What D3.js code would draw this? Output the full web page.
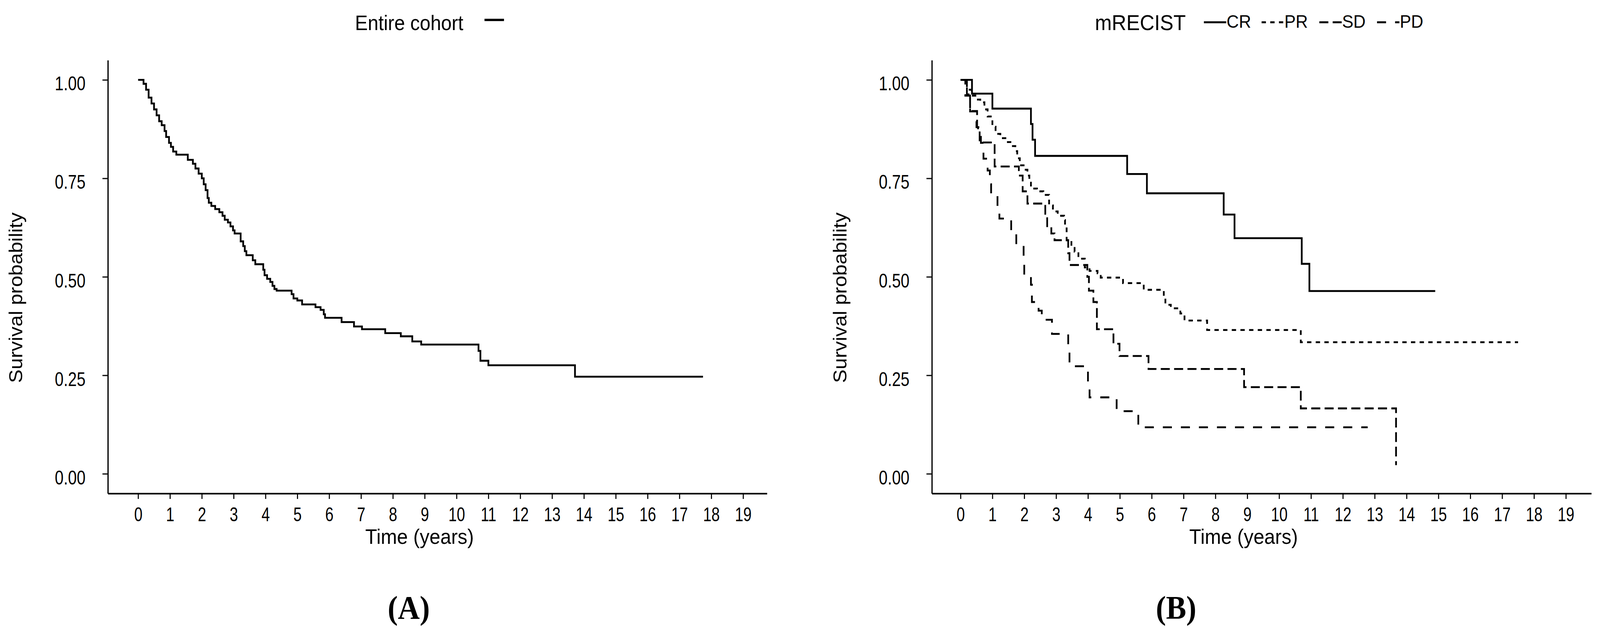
<!DOCTYPE html>
<html>
<head>
<meta charset="utf-8">
<script src="https://cdn.jsdelivr.net/npm/d3@7"></script>
<style>
  html, body { margin: 0; padding: 0; background: #fff; overflow: hidden; }
  #chart { display: block; width: 100vw; height: 100vh; }
  text { font-family: "Liberation Sans", Arial, sans-serif; fill: #000; }
  .tick text { font-family: "Liberation Sans", Arial, sans-serif; font-size: 50px; }
</style>
</head>
<body>
<svg id="chart" viewBox="0 0 4435 1615" preserveAspectRatio="none"></svg>
<script>
'use strict';

// Data Inputs: [time in years, survival after the step]
const xTicks = [0, 1, 2, 3, 4, 5, 6, 7, 8, 9, 10, 11, 12, 13, 14, 15, 16, 17, 18, 19];
const yTicks = [0, 0.25, 0.5, 0.75, 1];

const cohort = [
    [0, 1], [0.17, 0.99], [0.25, 0.975], [0.33, 0.955], [0.42, 0.94], [0.5, 0.925],
    [0.58, 0.91], [0.66, 0.895], [0.74, 0.885], [0.83, 0.87], [0.88, 0.855], [0.97, 0.84],
    [1.03, 0.83], [1.1, 0.818], [1.2, 0.81], [1.56, 0.797], [1.72, 0.787], [1.8, 0.775],
    [1.9, 0.762], [2.0, 0.75], [2.06, 0.735], [2.12, 0.72], [2.18, 0.70], [2.22, 0.688],
    [2.3, 0.68], [2.42, 0.672], [2.55, 0.664], [2.65, 0.655], [2.72, 0.645], [2.82, 0.638],
    [2.9, 0.628], [2.98, 0.618], [3.03, 0.61], [3.22, 0.59], [3.3, 0.578], [3.35, 0.565],
    [3.4, 0.555], [3.6, 0.542], [3.68, 0.532], [3.93, 0.518], [3.97, 0.504], [4.05, 0.495],
    [4.15, 0.487], [4.22, 0.477], [4.28, 0.469], [4.35, 0.465], [4.82, 0.456], [4.88, 0.445],
    [5.0, 0.44], [5.15, 0.43], [5.57, 0.423], [5.73, 0.416], [5.83, 0.405], [5.87, 0.396],
    [6.39, 0.385], [6.78, 0.374], [7.03, 0.367], [7.76, 0.357], [8.25, 0.349], [8.61, 0.336],
    [8.89, 0.328], [10.69, 0.312], [10.75, 0.287], [11.0, 0.2755], [13.72, 0.2465], [17.74, 0.2465]
];

const cr = [
    [0, 1], [0.36, 0.965], [1.0, 0.927], [2.21, 0.888], [2.26, 0.848], [2.34, 0.807],
    [5.23, 0.761], [5.85, 0.712], [8.26, 0.658], [8.6, 0.598], [10.71, 0.533], [10.95, 0.464],
    [14.9, 0.464]
];

const pr = [
    [0, 1], [0.2, 0.975], [0.35, 0.96], [0.5, 0.95], [0.62, 0.943], [0.75, 0.925],
    [0.85, 0.907], [1.0, 0.881], [1.1, 0.863], [1.25, 0.852], [1.45, 0.842], [1.6, 0.832],
    [1.72, 0.819], [1.78, 0.801], [1.86, 0.783], [1.98, 0.772], [2.1, 0.757], [2.16, 0.739],
    [2.21, 0.724], [2.4, 0.717], [2.6, 0.708], [2.78, 0.681], [2.9, 0.666], [3.05, 0.655],
    [3.25, 0.644], [3.28, 0.626], [3.33, 0.593], [3.48, 0.578], [3.58, 0.564], [3.7, 0.546],
    [3.9, 0.524], [4.05, 0.515], [4.3, 0.509], [4.4, 0.498], [5.1, 0.484], [5.75, 0.467],
    [6.38, 0.45], [6.43, 0.429], [6.6, 0.42], [6.9, 0.407], [7.03, 0.389], [7.74, 0.365],
    [10.68, 0.334], [17.5, 0.334]
];

const sd = [
    [0, 1], [0.2, 0.963], [0.3, 0.921], [0.52, 0.88], [0.6, 0.841], [1.07, 0.78],
    [1.83, 0.757], [1.95, 0.717], [2.1, 0.686], [2.66, 0.66], [2.72, 0.626], [2.85, 0.61],
    [2.95, 0.593], [3.38, 0.56], [3.42, 0.53], [3.98, 0.5], [4.03, 0.465], [4.17, 0.436],
    [4.28, 0.367], [4.8, 0.33], [4.99, 0.299], [5.9, 0.266], [8.9, 0.22], [10.68, 0.166],
    [13.67, 0.022]
];

const pd = [
    [0, 1], [0.15, 0.96], [0.3, 0.92], [0.5, 0.88], [0.55, 0.86], [0.64, 0.84],
    [0.72, 0.80], [0.85, 0.77], [0.92, 0.735], [0.96, 0.712], [1.16, 0.67], [1.22, 0.648],
    [1.59, 0.611], [1.75, 0.58], [1.98, 0.54], [2.0, 0.505], [2.21, 0.48], [2.24, 0.436],
    [2.45, 0.414], [2.55, 0.391], [2.87, 0.355], [3.38, 0.31], [3.42, 0.273], [4.0, 0.232],
    [4.05, 0.194], [4.9, 0.159], [5.58, 0.118], [12.78, 0.118]
];

const groupNames = ['CR', 'PR', 'SD', 'PD'];
const groupDash  = ['none', '12,12', '25,12', '25,25'];


const svg = d3.select('#chart');
const lineW = 4.8;
const yLabScale = 0.875,
      xLabScale = 0.83;

const y = d3.scaleLinear().domain([-0.05, 1.05]).range([1263, 154]);

function drawPanel(p) {
    const x = d3.scaleLinear().domain(p.xDomain).range(p.xRange);
    const g = svg.append('g');

    // axes
    const gy = g.append('g')
        .attr('transform', `translate(${p.xRange[0]},0)`)
        .call(d3.axisLeft(y).tickValues(yTicks).tickFormat(d3.format('.2f'))
              .tickSize(15).tickSizeOuter(0).tickPadding(47));
    gy.selectAll('text')
        .attr('x', -62 / yLabScale)
        .attr('dy', '0.53em')
        .attr('transform', `scale(${yLabScale},1)`);
    gy.select('.domain').attr('stroke-width', 3.5);
    gy.selectAll('.tick line').attr('stroke-width', 3);

    const gx = g.append('g')
        .attr('transform', 'translate(0,1263)')
        .call(d3.axisBottom(x).tickValues(xTicks).tickFormat(d3.format('d'))
              .tickSize(14).tickSizeOuter(0).tickPadding(22));
    gx.selectAll('text').attr('transform', `scale(${xLabScale},1)`);
    gx.select('.domain').attr('stroke-width', 4);
    gx.selectAll('.tick line').attr('stroke-width', 3);

    // curves
    const line = d3.line()
        .x(d => x(d[0]))
        .y(d => y(d[1]))
        .curve(d3.curveStepAfter);

    p.series.forEach((s, i) => {
        g.append('path')
            .attr('d', line(s))
            .attr('fill', 'none')
            .attr('stroke', '#000')
            .attr('stroke-width', lineW)
            .attr('stroke-dasharray', p.dash[i]);
    });

    // labels
    g.append('text')
        .attr('x', p.titleX).attr('y', 1392)
        .attr('text-anchor', 'middle')
        .style('font-size', '54px')
        .text('Time (years)');

    g.append('text')
        .attr('transform', `translate(${p.ylabX},762) rotate(-90)`)
        .attr('text-anchor', 'middle')
        .style('font-size', '52px')
        .text('Survival probability');

    g.append('text')
        .attr('x', p.tagX).attr('y', 1584)
        .attr('text-anchor', 'middle')
        .style('font-family', '"Liberation Serif", "Times New Roman", serif')
        .style('font-weight', 'bold')
        .style('font-size', '84px')
        .text(p.tag);
}

drawPanel({
    xDomain: [-0.95, 19.75], xRange: [299, 2126],
    series: [cohort], dash: ['none'],
    titleX: 1163, ylabX: 62, tagX: 1133, tag: '(A)'
});

drawPanel({
    xDomain: [-0.9, 19.8], xRange: [2583, 4411],
    series: [cr, pr, sd, pd], dash: groupDash,
    titleX: 3447, ylabX: 2346, tagX: 3260, tag: '(B)'
});

// legend A
svg.append('text')
    .attr('x', 984).attr('y', 77)
    .style('font-size', '53px')
    .text('Entire cohort');
svg.append('line')
    .attr('x1', 1343).attr('x2', 1397).attr('y1', 51).attr('y2', 51)
    .attr('stroke', '#000').attr('stroke-width', 6);

// legend B
svg.append('text')
    .attr('x', 3035).attr('y', 77)
    .style('font-size', '56px')
    .text('mRECIST');

groupNames.forEach((name, i) => {
    const kx = 3337 + i * 160;
    svg.append('line')
        .attr('x1', kx).attr('x2', kx + 62).attr('y1', 57).attr('y2', 57)
        .attr('stroke', '#000').attr('stroke-width', 5)
        .attr('stroke-dasharray', groupDash[i]);
    svg.append('text')
        .attr('x', kx + 63).attr('y', 71)
        .style('font-size', '47px')
        .text(name);
});
</script>
</body>
</html>
